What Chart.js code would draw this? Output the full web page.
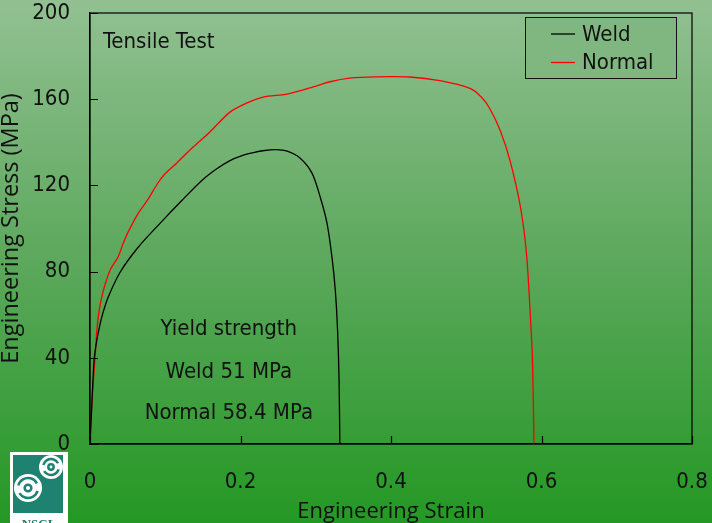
<!DOCTYPE html>
<html>
<head>
<meta charset="utf-8">
<script src="https://cdn.jsdelivr.net/npm/chart.js@4"></script>
<style>
  html, body { margin: 0; padding: 0; background: #5aa85a; }
  #wrap { width: 712px; height: 523px; }
</style>
</head>
<body>
<div id="wrap"><canvas id="myChart" width="712" height="523"></canvas></div>
<script>
// curves (strain, MPa)
const weldStrain = [0, 0.002, 0.004, 0.0057, 0.009, 0.013, 0.017, 0.024, 0.04, 0.064, 0.093, 0.122, 0.149, 0.168, 0.186, 0.202, 0.217, 0.232, 0.247, 0.262, 0.279, 0.295, 0.306, 0.315, 0.3216, 0.326, 0.329, 0.331, 0.332];
const weldStress = [0, 15, 30, 40, 48, 55, 60.6, 68, 79.7, 91.3, 102.4, 113, 122.4, 127.6, 131.5, 133.8, 135.2, 136.2, 136.6, 135.9, 132.7, 125.7, 114.5, 102.4, 86.6, 71.3, 52.7, 29.5, 0];

const normalStrain = [0, 0.0017, 0.0045, 0.0067, 0.010, 0.0155, 0.0266, 0.037, 0.044, 0.0505, 0.064, 0.077, 0.09, 0.1, 0.115, 0.137, 0.159, 0.186, 0.208, 0.23, 0.262, 0.292, 0.319, 0.345, 0.38, 0.425, 0.465, 0.505, 0.52, 0.531, 0.545, 0.558, 0.572, 0.58, 0.585, 0.588, 0.590];
const normalStress = [0, 14, 29.5, 40, 56, 68, 80.6, 86.6, 93, 98.2, 107, 113.5, 121, 125.5, 130.3, 137.8, 144.7, 154, 158.2, 161, 162.4, 165.2, 168.1, 169.8, 170.4, 170.3, 168.6, 165, 161, 155.8, 145.6, 131.7, 110, 88.5, 60.6, 38.8, 0];

const seriesNames = ["Weld", "Normal"];
const xTicks = [0, 0.2, 0.4, 0.6, 0.8];
const yTicks = [0, 40, 80, 120, 160, 200];
const notes = ["Yield strength", "Weld 51 MPa", "Normal 58.4 MPa"];

const tickFont = '"DejaVu Sans Condensed", "DejaVu Sans", sans-serif';
const titleFont = '"Open Sans", "Noto Sans", sans-serif';

function toPoints(xs, ys){
    return xs.map((x, i) => ({x: x, y: ys[i]}));
}

const decor = {
    id: "decor",
    beforeDraw(chart){
        const c = chart.ctx;
        const g = c.createLinearGradient(0, 0, 0, chart.height);
        g.addColorStop(0, "rgb(146,192,146)");
        g.addColorStop(0.5, "rgb(92,168,92)");
        g.addColorStop(1, "rgb(36,152,36)");
        c.save();
        c.fillStyle = g;
        c.fillRect(0, 0, chart.width, chart.height);
        c.restore();
    },
    afterDraw(chart){
        const c = chart.ctx;
        const a = chart.chartArea;
        const xs = chart.scales.x, ys = chart.scales.y;
        c.save();
        // frame
        c.strokeStyle = "#000";
        c.lineWidth = 1.2;
        c.strokeRect(a.left, a.top, a.right - a.left, a.bottom - a.top);
        // inner tick marks
        c.beginPath();
        xTicks.forEach(v => {
            const px = Math.round(xs.getPixelForValue(v)) + 0.5;
            c.moveTo(px, a.bottom); c.lineTo(px, a.bottom - 8);
        });
        yTicks.forEach(v => {
            const py = Math.round(ys.getPixelForValue(v)) + 0.5;
            c.moveTo(a.left, py); c.lineTo(a.left + 8, py);
        });
        c.stroke();

        // texts
        c.fillStyle = "#111";
        c.font = "22px " + tickFont;
        c.textBaseline = "alphabetic";
        c.textAlign = "left";
        c.fillText("Tensile Test", xs.getPixelForValue(0.0173), ys.getPixelForValue(183.7));
        c.textAlign = "center";
        const nx = xs.getPixelForValue(0.1845);
        c.fillText(notes[0], nx, ys.getPixelForValue(50.4));
        c.fillText(notes[1], nx, ys.getPixelForValue(30.6));
        c.fillText(notes[2], nx, ys.getPixelForValue(11.7));

        // legend
        const lx = a.right - 167, ly = a.top + 4;
        c.fillStyle = "rgba(0,0,0,0.35)";
        c.fillRect(lx + 1, ly + 1, 151, 61);
        c.fillStyle = "rgb(128,183,128)";
        c.fillRect(lx, ly, 151, 61);
        c.strokeStyle = "#111";
        c.lineWidth = 1;
        c.strokeRect(lx + 0.5, ly + 0.5, 151, 61);
        c.textAlign = "left";
        chart.data.datasets.forEach((ds, i) => {
            const yy = ly + 17 + i * 28.5;
            c.strokeStyle = ds.borderColor;
            c.lineWidth = 1.3;
            c.beginPath();
            c.moveTo(lx + 26, yy); c.lineTo(lx + 50, yy);
            c.stroke();
            c.fillStyle = "#111";
            c.textBaseline = "middle";
            c.fillText(ds.label, lx + 57, yy + 1);
        });

        // logo
        c.fillStyle = "#fff";
        c.fillRect(10, 452, 58, 71);
        c.fillStyle = "#1d8370";
        c.fillRect(13, 455, 50, 58);
        c.fillStyle = "#fff";
        c.beginPath(); c.arc(51, 467, 12, 0, Math.PI * 2); c.fill();
        c.beginPath(); c.arc(28, 488, 14, 0, Math.PI * 2); c.fill();
        c.strokeStyle = "#1d8370";
        c.lineWidth = 2.5;
        [[51, 467, 8], [28, 488, 10]].forEach(s => {
            c.beginPath(); c.arc(s[0], s[1], s[2], 0.3, 2.6); c.stroke();
            c.beginPath(); c.arc(s[0], s[1], s[2], 3.4, 5.8); c.stroke();
            c.beginPath(); c.arc(s[0], s[1], s[2] / 3, 0, Math.PI * 2); c.stroke();
        });
        c.fillStyle = "#1d8370";
        c.font = "bold 13px 'Liberation Serif', serif";
        c.textAlign = "center";
        c.textBaseline = "alphabetic";
        c.fillText("NSCL", 39, 528);
        c.restore();
    }
};

const data = {
    datasets: [
        {
            label: seriesNames[0],
            data: toPoints(weldStrain, weldStress),
            borderColor: "#000000",
            borderWidth: 1.3,
            pointRadius: 0,
            showLine: true,
            tension: 0.3
        },
        {
            label: seriesNames[1],
            data: toPoints(normalStrain, normalStress),
            borderColor: "#ff0000",
            borderWidth: 1.3,
            pointRadius: 0,
            showLine: true,
            tension: 0.3
        }
    ]
};

const config = {
    type: "scatter",
    data: data,
    options: {
        responsive: false,
        animation: false,
        layout: { padding: { top: 13, right: 20, left: 0, bottom: 0 } },
        plugins: {
            legend: { display: false },
            tooltip: { enabled: false }
        },
        scales: {
            x: {
                type: "linear",
                min: 0,
                max: 0.8,
                afterFit: s => { s.height = 79; s.paddingLeft = 0; s.paddingRight = 0; },
                afterBuildTicks: s => { s.ticks = xTicks.map(v => ({value: v})); },
                grid: { drawOnChartArea: false, drawTicks: false },
                border: { display: true, color: "#000", width: 1.2 },
                ticks: {
                    color: "#111",
                    padding: 27,
                    maxRotation: 0,
                    font: { family: tickFont, size: 22, lineHeight: 1 },
                    callback: v => v === 0 ? "0" : v.toFixed(1)
                },
                title: {
                    display: true,
                    text: "Engineering Strain",
                    color: "#111",
                    padding: 0,
                    font: { family: titleFont, size: 22, lineHeight: 1 }
                }
            },
            y: {
                type: "linear",
                min: 0,
                max: 200,
                afterFit: s => { s.width = 90; s.paddingTop = 0; s.paddingBottom = 0; },
                afterBuildTicks: s => { s.ticks = yTicks.map(v => ({value: v})); },
                grid: { drawOnChartArea: false, drawTicks: false },
                border: { display: true, color: "#000", width: 1.2 },
                ticks: {
                    color: "#111",
                    padding: 20,
                    font: { family: tickFont, size: 22, lineHeight: 1 }
                },
                title: {
                    display: true,
                    text: "Engineering Stress (MPa)",
                    color: "#111",
                    padding: 0,
                    font: { family: titleFont, size: 23.5, lineHeight: 1 }
                }
            }
        }
    },
    plugins: [decor]
};

const ctx = document.getElementById("myChart").getContext("2d");
const myChart = new Chart(ctx, config);
</script>
</body>
</html>
